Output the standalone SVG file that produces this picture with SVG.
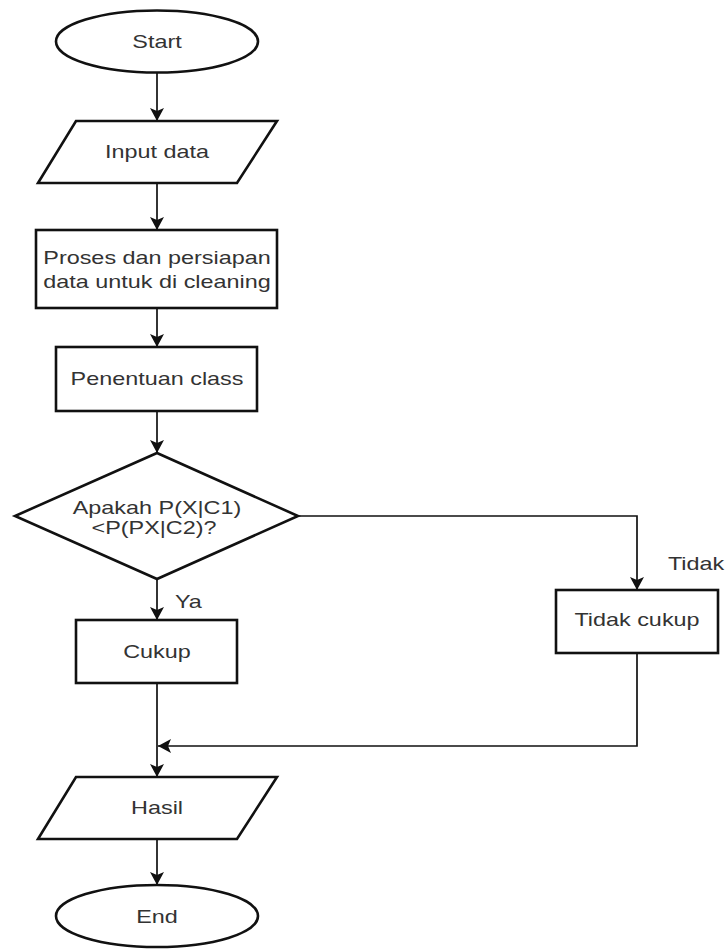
<svg xmlns="http://www.w3.org/2000/svg" width="728" height="949" viewBox="0 0 728 949">
<defs>
<style>
.shape{fill:#fff;stroke:#111;stroke-width:2.6}
.conn{fill:none;stroke:#111;stroke-width:1.7}
.t{font-family:"Liberation Sans",Arial,sans-serif;font-size:18px;fill:#333;text-anchor:middle}
.l{font-family:"Liberation Sans",Arial,sans-serif;font-size:18px;fill:#333;text-anchor:start}
</style>
<marker id="arr" markerUnits="userSpaceOnUse" markerWidth="14" markerHeight="14" refX="13" refY="7" orient="auto">
<path d="M0,0 L13,7 L0,14 L3,7 Z" fill="#111"/>
</marker>
</defs>
<rect width="728" height="949" fill="#fff"/>
<g id="connectors">
<path class="conn" d="M157,73 V121" marker-end="url(#arr)"/>
<path class="conn" d="M157,183 V230" marker-end="url(#arr)"/>
<path class="conn" d="M157,308 V347" marker-end="url(#arr)"/>
<path class="conn" d="M157,411 V453" marker-end="url(#arr)"/>
<path class="conn" d="M157,579 V620" marker-end="url(#arr)"/>
<path class="conn" d="M298,516 H637 V590" marker-end="url(#arr)"/>
<path class="conn" d="M157,683 V777" marker-end="url(#arr)"/>
<path class="conn" d="M637,653 V746 H158" marker-end="url(#arr)"/>
<path class="conn" d="M157,839 V885" marker-end="url(#arr)"/>
<text class="l" transform="scale(1.3 1)" x="134.6" y="608">Ya</text>
<text class="l" transform="scale(1.3 1)" x="513.8" y="570">Tidak</text>
</g>
<g id="start">
<ellipse class="shape" cx="157" cy="41.5" rx="101" ry="31"/>
<text class="t" transform="scale(1.3 1)" x="120.8" y="48">Start</text>
</g>
<g id="input">
<polygon class="shape" points="76,121 277,121 237,183 38,183"/>
<text class="t" transform="scale(1.3 1)" x="120.8" y="158">Input data</text>
</g>
<g id="proses">
<rect class="shape" x="36" y="230" width="241" height="78"/>
<text class="t" transform="scale(1.3 1)" x="120.8" y="264">Proses dan persiapan</text>
<text class="t" transform="scale(1.3 1)" x="120.8" y="288">data untuk di cleaning</text>
</g>
<g id="penentuan">
<rect class="shape" x="56" y="347" width="201" height="64"/>
<text class="t" transform="scale(1.3 1)" x="120.8" y="385">Penentuan class</text>
</g>
<g id="decision">
<polygon class="shape" points="157,453 298,516 157,579 15,516"/>
<text class="t" transform="scale(1.3 1)" x="120.8" y="514">Apakah P(X|C1)</text>
<text class="t" transform="scale(1.3 1)" x="118.5" y="534">&lt;P(PX|C2)?</text>
</g>
<g id="cukup">
<rect class="shape" x="76" y="620" width="161" height="63"/>
<text class="t" transform="scale(1.3 1)" x="120.8" y="658">Cukup</text>
</g>
<g id="tidakcukup">
<rect class="shape" x="556" y="590" width="162" height="63"/>
<text class="t" transform="scale(1.3 1)" x="490" y="626">Tidak cukup</text>
</g>
<g id="hasil">
<polygon class="shape" points="76,777 277,777 237,839 38,839"/>
<text class="t" transform="scale(1.3 1)" x="120.8" y="814">Hasil</text>
</g>
<g id="end">
<ellipse class="shape" cx="157" cy="916" rx="101" ry="31"/>
<text class="t" transform="scale(1.3 1)" x="120.8" y="923">End</text>
</g>
</svg>
